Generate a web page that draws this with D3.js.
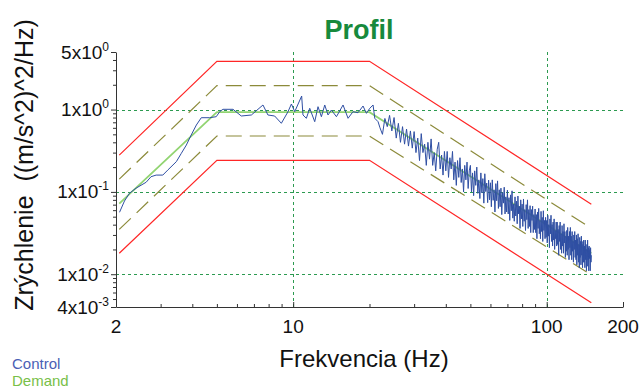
<!DOCTYPE html>
<html>
<head>
<meta charset="utf-8">
<script src="https://cdnjs.cloudflare.com/ajax/libs/d3/7.8.5/d3.min.js"></script>
<style>
  body { margin: 0; background: #fff; }
  svg { display: block; font-family: "Liberation Sans", Arial, sans-serif; }
</style>
</head>
<body>
<div id="chart"></div>
<script>
// profile breakpoints (Hz) and levels ((m/s^2)^2/Hz)
const profileFreq = [2.06, 5, 20, 150];
const demand = [0.072, 0.93, 0.93, 0.018];
const abortHigh = [0.28, 3.85, 3.85, 0.071];
const alarmHigh = [0.143, 1.95, 1.95, 0.036];
const alarmLow = [0.035, 0.477, 0.477, 0.0098];
const abortLow = [0.018, 0.242, 0.242, 0.0045];

// measured control spectrum, low part read point by point
const controlLowFreq = [2.065, 2.16, 2.26, 2.40, 2.63, 2.75, 2.88, 3.06, 3.20, 3.46,
  3.62, 3.79, 3.96, 4.15, 4.34, 4.68, 4.97, 5.13, 5.28, 5.79,
  6.24, 6.84, 7.60, 7.95, 8.45, 8.98, 9.54, 9.84, 10.14, 10.80,
  10.93, 11.27, 11.62, 12.16, 12.53, 12.92, 13.32, 13.72, 14.15, 14.81,
  15.73, 16.46, 17.22, 18.02, 18.86, 19.45, 20.05, 20.66, 20.98, 21.62];
const controlLow = [0.0565, 0.0775, 0.0961, 0.111, 0.131, 0.153, 0.160, 0.160, 0.184, 0.233,
  0.294, 0.371, 0.491, 0.649, 0.796, 0.796, 0.819, 0.942, 1.007, 1.007,
  0.835, 0.859, 1.136, 0.859, 0.835, 0.681, 0.942, 1.168, 0.942, 1.46,
  0.859, 0.783, 1.036, 0.712, 1.083, 0.819, 1.136, 0.859, 0.987, 0.819,
  1.136, 0.783, 0.942, 0.916, 1.104, 0.900, 1.036, 1.136, 0.783, 0.712];

// high part: one value every 0.5 Hz from 22 Hz to 150 Hz
const controlHighStart = 22, controlHighStep = 0.5;
const controlHigh = [
  // 22 - 29.5
  0.60, 0.50, 0.78, 0.62, 0.85, 0.55, 0.80, 0.45, 0.68, 0.40, 0.62, 0.38, 0.58, 0.36, 0.55, 0.34,
  // 30 - 39.5
  0.54, 0.30, 0.45, 0.24, 0.51, 0.30, 0.38, 0.21, 0.40, 0.25, 0.44, 0.21, 0.30, 0.18, 0.33, 0.40, 0.19, 0.28, 0.16, 0.31,
  // 40 - 49.5
  0.18, 0.31, 0.15, 0.26, 0.19, 0.31, 0.14, 0.23, 0.12, 0.24, 0.15, 0.26, 0.13, 0.19, 0.10, 0.21, 0.14, 0.23, 0.11, 0.18,
  // 50 - 59.5
  0.21, 0.10, 0.17, 0.090, 0.18, 0.12, 0.20, 0.096, 0.14, 0.083, 0.17, 0.097, 0.145, 0.073, 0.166, 0.101, 0.128, 0.074, 0.139, 0.080,
  // 60 - 69.5
  0.129, 0.066, 0.140, 0.079, 0.106, 0.057, 0.126, 0.078, 0.136, 0.063, 0.106, 0.066, 0.111, 0.053, 0.098, 0.073, 0.114, 0.054, 0.087, 0.057,
  // 70 - 79.5
  0.105, 0.054, 0.085, 0.045, 0.092, 0.059, 0.103, 0.048, 0.071, 0.044, 0.087, 0.051, 0.077, 0.041, 0.089, 0.054, 0.067, 0.036, 0.080, 0.047,
  // 80 - 89.5
  0.071, 0.038, 0.082, 0.044, 0.061, 0.034, 0.070, 0.046, 0.080, 0.036, 0.061, 0.038, 0.068, 0.032, 0.061, 0.045, 0.067, 0.032, 0.053, 0.035,
  // 90 - 99.5
  0.062, 0.032, 0.053, 0.027, 0.057, 0.036, 0.063, 0.031, 0.045, 0.027, 0.058, 0.033, 0.049, 0.025, 0.059, 0.034, 0.045, 0.027, 0.049, 0.028,
  // 100 - 109.5
  0.045, 0.024, 0.052, 0.029, 0.040, 0.021, 0.047, 0.031, 0.052, 0.025, 0.040, 0.022, 0.043, 0.026, 0.047, 0.020, 0.034, 0.027, 0.043, 0.022,
  // 110 - 119.5
  0.043, 0.023, 0.035, 0.017, 0.039, 0.025, 0.043, 0.020, 0.031, 0.018, 0.039, 0.022, 0.033, 0.018, 0.041, 0.024, 0.033, 0.016, 0.029, 0.019,
  // 120 - 129.5
  0.034, 0.017, 0.037, 0.020, 0.029, 0.015, 0.033, 0.021, 0.037, 0.017, 0.029, 0.015, 0.033, 0.019, 0.025, 0.014, 0.030, 0.020, 0.033, 0.016,
  // 130 - 139.5
  0.026, 0.015, 0.030, 0.013, 0.027, 0.017, 0.031, 0.014, 0.023, 0.012, 0.028, 0.016, 0.025, 0.013, 0.029, 0.017, 0.023, 0.012, 0.025, 0.014,
  // 140 - 150
  0.026, 0.014, 0.022, 0.012, 0.026, 0.015, 0.023, 0.011, 0.020, 0.0125, 0.026, 0.015, 0.021, 0.011, 0.022, 0.0155, 0.020, 0.011, 0.021, 0.014, 0.017
];

// axes
const xTickValues = [2, 10, 100, 200];
const xTickLabels = ["2", "10", "100", "200"];
const yTickValues = [5, 1, 0.1, 0.01, 0.004];
const yTickMant = ["5x10", "1x10", "1x10", "1x10", "4x10"];
const yTickExp = ["0", "0", "-1", "-2", "-3"];
const gridX = [10, 100];
const gridY = [1, 0.1, 0.01];

const width = 641, height = 389;
const svg = d3.select("#chart").append("svg")
  .attr("width", width)
  .attr("height", height);

const x = d3.scaleLog().domain([2, 200]).range([116, 623]);
const y = d3.scaleLog().domain([0.004, 5]).range([307, 52]);
const crisp = v => Math.round(v) + 0.5;

// grid
const gridColor = "#2c9a50";
svg.append("g").selectAll("line").data(gridX).enter().append("line")
  .attr("x1", d => crisp(x(d))).attr("x2", d => crisp(x(d)))
  .attr("y1", y(5)).attr("y2", y(0.004))
  .attr("stroke", gridColor).attr("stroke-dasharray", "3,3");
svg.append("g").selectAll("line").data(gridY).enter().append("line")
  .attr("x1", x(2)).attr("x2", x(200))
  .attr("y1", d => crisp(y(d))).attr("y2", d => crisp(y(d)))
  .attr("stroke", gridColor).attr("stroke-dasharray", "3,3");

// axes
const axisColor = "#333";
const yMinor = y.ticks().filter(t => yTickValues.indexOf(t) < 0 && t >= 0.004 && t <= 5);
const xMinor = x.ticks().filter(t => xTickValues.indexOf(t) < 0);

function styleAxis(g) {
  g.selectAll("path, line").attr("stroke", axisColor);
  g.selectAll("text").remove();
}

svg.append("g")
  .attr("transform", "translate(" + x(2) + ",0)")
  .call(d3.axisLeft(y).tickValues(yTickValues).tickSize(5).tickSizeOuter(0).tickFormat(""))
  .call(styleAxis);
svg.append("g")
  .attr("transform", "translate(" + x(2) + ",0)")
  .call(d3.axisLeft(y).tickValues(yMinor).tickSize(3).tickSizeOuter(0).tickFormat(""))
  .call(g => g.select(".domain").remove())
  .call(styleAxis);

svg.append("g")
  .attr("transform", "translate(0," + y(0.004) + ")")
  .call(d3.axisBottom(x).tickValues(xTickValues).tickSize(-5).tickSizeOuter(0).tickFormat(""))
  .call(styleAxis);
svg.append("g")
  .attr("transform", "translate(0," + y(0.004) + ")")
  .call(d3.axisBottom(x).tickValues(xMinor).tickSize(-3).tickSizeOuter(0).tickFormat(""))
  .call(g => g.select(".domain").remove())
  .call(styleAxis);

// tick labels
svg.append("g").selectAll("text").data(xTickValues).enter().append("text")
  .attr("x", d => x(d)).attr("y", 333)
  .attr("text-anchor", "middle")
  .attr("font-size", 19).attr("fill", "#111")
  .text((d, i) => xTickLabels[i]);

const yl = svg.append("g").selectAll("text").data(yTickValues).enter().append("text")
  .attr("x", 109).attr("y", d => y(d) + 6.5)
  .attr("text-anchor", "end")
  .attr("font-size", 19).attr("fill", "#111");
yl.append("tspan").text((d, i) => yTickMant[i]);
yl.append("tspan").attr("dy", -8).attr("font-size", 12).text((d, i) => yTickExp[i]);

// lines
const line = d3.line().x(d => x(d[0])).y(d => y(d[1]));
const pairs = vals => profileFreq.map((f, i) => [f, vals[i]]);

[abortHigh, abortLow].forEach(v => {
  svg.append("path").datum(pairs(v)).attr("d", line)
    .attr("fill", "none").attr("stroke", "#ff2626").attr("stroke-width", 1.2);
});
[alarmHigh, alarmLow].forEach(v => {
  svg.append("path").datum(pairs(v)).attr("d", line)
    .attr("fill", "none").attr("stroke", "#8c8a3a").attr("stroke-width", 1.2)
    .attr("stroke-dasharray", "16,8");
});
svg.append("path").datum(pairs(demand)).attr("d", line)
  .attr("fill", "none").attr("stroke", "#92d472").attr("stroke-width", 1.8);

const controlFreqHigh = d3.range(controlHighStart, 150.001, controlHighStep);
const control = controlLowFreq.map((f, i) => [f, controlLow[i]])
  .concat(controlHigh.map((v, i) => [controlFreqHigh[i], v]));
svg.append("path").datum(control).attr("d", line)
  .attr("fill", "none").attr("stroke", "#2f4fa3").attr("stroke-width", 1)
  .attr("stroke-linejoin", "round");

// titles
svg.append("text")
  .attr("x", 359).attr("y", 38.5)
  .attr("text-anchor", "middle")
  .attr("font-size", 27).attr("font-weight", "bold").attr("fill", "#178a3c")
  .text("Profil");

svg.append("text")
  .attr("x", 364).attr("y", 367)
  .attr("text-anchor", "middle")
  .attr("font-size", 24).attr("fill", "#111")
  .text("Frekvencia (Hz)");

svg.append("text")
  .attr("transform", "translate(33,165) rotate(-90)")
  .attr("text-anchor", "middle")
  .attr("font-size", 25).attr("fill", "#111")
  .attr("xml:space", "preserve")
  .text("Zrýchlenie  ((m/s^2)^2/Hz)");

// legend
svg.append("text").attr("x", 12).attr("y", 369)
  .attr("font-size", 15).attr("fill", "#4a5fb5").text("Control");
svg.append("text").attr("x", 12).attr("y", 386)
  .attr("font-size", 15).attr("fill", "#78c048").text("Demand");
</script>
</body>
</html>
